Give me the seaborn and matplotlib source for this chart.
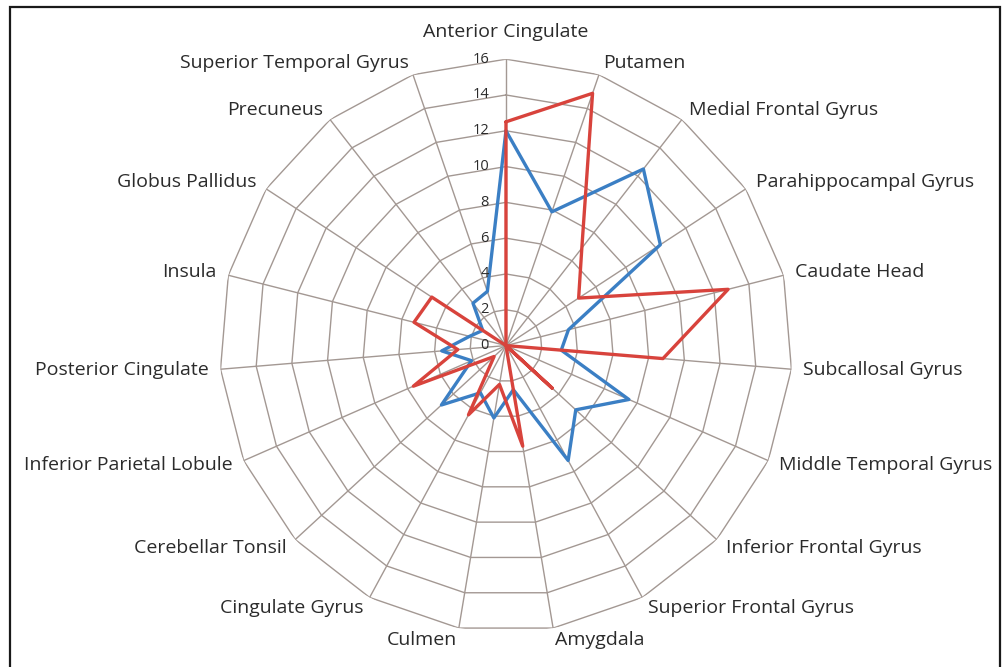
import numpy as np
import pandas as pd
import seaborn as sns
import matplotlib.pyplot as plt
from matplotlib.patches import Rectangle
from matplotlib.transforms import offset_copy

regions = ["Anterior Cingulate", "Putamen", "Medial Frontal Gyrus", "Parahippocampal Gyrus",
           "Caudate Head", "Subcallosal Gyrus", "Middle Temporal Gyrus", "Inferior Frontal Gyrus",
           "Superior Frontal Gyrus", "Amygdala", "Culmen", "Cingulate Gyrus", "Cerebellar Tonsil",
           "Inferior Parietal Lobule", "Posterior Cingulate", "Insula", "Globus Pallidus",
           "Precuneus", "Superior Temporal Gyrus"]
blue_vals = [12.0, 7.9, 12.5, 10.3, 3.6, 3.1, 7.5, 5.3, 7.3, 2.5,
             4.1, 3.0, 4.9, 2.1, 3.6, 2.1, 1.55, 3.0, 3.2]
red_vals = [12.5, 14.9, 6.9, 4.85, 12.8, 8.8, 0.0, 3.5, 0.0, 5.7,
            2.2, 4.4, 0.9, 5.65, 2.7, 5.3, 4.95, 0.0, 0.0]
ticks = [0, 2, 4, 6, 8, 10, 12, 14, 16]

sns.set_style("white")
plt.rcParams['font.family'] = ['Open Sans', 'DejaVu Sans']

grid_col = "#a39893"
text_col = "#2b2b2b"
blue = "#3b7fc4"
red = "#d8433c"

n = len(regions)
angles = np.arange(n) * 2 * np.pi / n
closed = np.append(angles, 2 * np.pi)

df = pd.DataFrame({
    "theta": closed,
    "blue": blue_vals + [blue_vals[0]],
    "red": red_vals + [red_vals[0]],
})

fig = plt.figure(figsize=(10.03, 6.67), dpi=100)
ax = fig.add_axes([0.2189, 0.0525, 0.5711, 0.8588], projection="polar")
ax.set_theta_zero_location("N")
ax.set_theta_direction(-1)
ax.grid(False)
ax.spines["polar"].set_visible(False)
ax.patch.set_alpha(0)

# polygon grid
for t in ticks[1:]:
    ax.plot(closed, [t] * (n + 1), color=grid_col, lw=1.0, zorder=1)
for a in angles:
    ax.plot([a, a], [0, ticks[-1]], color=grid_col, lw=1.0, zorder=1)

sns.lineplot(data=df, x="theta", y="blue", sort=False, estimator=None,
             color=blue, lw=2.4, ax=ax, zorder=3)
sns.lineplot(data=df, x="theta", y="red", sort=False, estimator=None,
             color=red, lw=2.4, ax=ax, zorder=4)

ax.set_ylim(0, 16)
ax.set_xticks([])
ax.set_yticks([])
ax.set_xlabel("")
ax.set_ylabel("")

# category labels
for a, name in zip(angles, regions):
    s = np.sin(a)
    if abs(s) < 1e-6:
        ax.text(a, 17.5, name, ha="center", va="center", fontsize=14, color=text_col)
    else:
        ax.text(a, 16.67, name, ha="left" if s > 0 else "right", va="center",
                fontsize=14, color=text_col)

# value labels along top spoke
tick_tr = offset_copy(ax.transData, fig=fig, x=-17, y=0, units="dots")
for t in ticks:
    ax.text(0, t, str(t), transform=tick_tr, ha="right", va="center",
            fontsize=10.5, color=text_col)

fig.add_artist(Rectangle((10 / 1003, -0.05), 990 / 1003, 1.05 - 7 / 667,
                         transform=fig.transFigure, fill=False,
                         edgecolor="#1a1a1a", lw=1.6))

fig.savefig("out.png", dpi=100)
